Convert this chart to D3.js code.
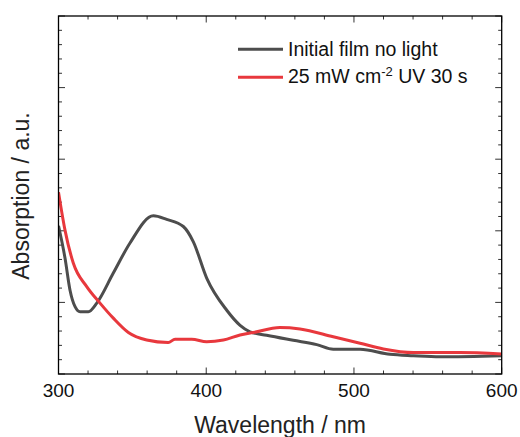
<!DOCTYPE html>
<html><head><meta charset="utf-8">
<script src="https://cdn.jsdelivr.net/npm/d3@7"></script>
<style>body{margin:0;background:#fff}svg{display:block}text{font-family:Arial,"Liberation Sans",sans-serif}</style>
</head><body>
<svg id="chart" width="520" height="437"></svg>
<script>
const seriesNames = ["Initial film no light", "25 mW cm-2 UV 30 s"];
const darkWl  = [300,304.4,307.8,311.2,314.6,320.2,325.9,337.1,348.4,364.2,373.2,384.5,391.2,400.3,413.9,422.9,429.6,440.9,458.9,474.8,486,504.1,524.4,540.2,558.2,600];
const darkAbs = [2.07,1.62,1.17,0.94,0.87,0.87,0.99,1.41,1.83,2.21,2.16,2.06,1.85,1.34,0.89,0.68,0.59,0.54,0.47,0.41,0.345,0.345,0.275,0.255,0.24,0.255];
const uvWl  = [300,304.4,310,319.1,328.1,337.1,347.3,359.7,374.3,378.9,390.2,400.3,411.6,422.9,431.9,449.9,463.5,486,504.1,519.9,540.2,571.8,600];
const uvAbs = [2.54,2.01,1.55,1.22,0.99,0.78,0.58,0.475,0.44,0.485,0.485,0.45,0.475,0.545,0.58,0.65,0.63,0.52,0.43,0.35,0.30,0.30,0.28];
const xTickLabels = [300,400,500,600];

const W = 520, H = 437;
const m = {l:58.5, t:16, r:18.3, b:63};
const svg = d3.select("#chart");
const x = d3.scaleLinear().domain([300,600]).range([m.l, W-m.r]);
const y = d3.scaleLinear().domain([0,5]).range([H-m.b, m.t]);

const minorX = d3.range(300,601,20), minorY = d3.range(0,5.01,0.2);
const isMajX = v => Math.abs(v%100)<1e-6;
const isMajY = v => Math.abs(v-Math.round(v))<1e-6;
const tickCol = "#333";

function axisTicks(){
  const g = svg.append("g").attr("stroke", tickCol).attr("stroke-width",1);
  minorX.forEach(v=>{
    const L = isMajX(v)?6.5:3.5;
    g.append("line").attr("x1",x(v)).attr("x2",x(v)).attr("y1",y(0)).attr("y2",y(0)-L);
    g.append("line").attr("x1",x(v)).attr("x2",x(v)).attr("y1",y(5)).attr("y2",y(5)+L);
  });
  minorY.forEach(v=>{
    const L = isMajY(v)?6.5:3.5;
    g.append("line").attr("x1",x(300)).attr("x2",x(300)+L).attr("y1",y(v)).attr("y2",y(v));
    g.append("line").attr("x1",x(600)).attr("x2",x(600)-L).attr("y1",y(v)).attr("y2",y(v));
  });
}
axisTicks();

const line = d3.line().x(d=>x(d[0])).y(d=>y(d[1])).curve(d3.curveMonotoneX);
const darkData = darkWl.map((w,i)=>[w,darkAbs[i]]);
const uvData = uvWl.map((w,i)=>[w,uvAbs[i]]);
const cDark = "#4d4d4d", cRed = "#e8383d";

svg.append("clipPath").attr("id","clip").append("rect")
  .attr("x",m.l).attr("y",m.t).attr("width",W-m.l-m.r).attr("height",H-m.t-m.b);
const pg = svg.append("g").attr("clip-path","url(#clip)");
pg.append("path").datum(darkData).attr("d",line).attr("fill","none").attr("stroke",cDark).attr("stroke-width",3).attr("stroke-linejoin","round");
pg.append("path").datum(uvData).attr("d",line).attr("fill","none").attr("stroke",cRed).attr("stroke-width",3).attr("stroke-linejoin","round");

svg.append("rect").attr("x",m.l).attr("y",m.t).attr("width",W-m.l-m.r).attr("height",H-m.t-m.b)
  .attr("fill","none").attr("stroke","#000").attr("stroke-width",1.3);

svg.append("g").selectAll("text").data(xTickLabels).join("text")
  .attr("x",d=>x(d)).attr("y",397).attr("text-anchor","middle").attr("font-size",19).attr("fill","#111").text(d=>d);

svg.append("text").attr("x",(x(300)+x(600))/2).attr("y",433).attr("text-anchor","middle")
  .attr("font-size",23).attr("fill","#222").text("Wavelength / nm");
svg.append("text").attr("transform","translate(29,196) rotate(-90)").attr("text-anchor","middle")
  .attr("font-size",23).attr("fill","#222").text("Absorption / a.u.");

// legend
const lg = svg.append("g");
[[cDark,49.3,55],[cRed,77.3,83]].forEach((r,i)=>{
  lg.append("line").attr("x1",238).attr("x2",283).attr("y1",r[1]).attr("y2",r[1]).attr("stroke",r[0]).attr("stroke-width",3);
});
lg.append("text").attr("x",288).attr("y",55.5).attr("font-size",19.5).attr("fill","#111").text(seriesNames[0]);
const t2 = lg.append("text").attr("x",288).attr("y",83).attr("font-size",19.5).attr("fill","#111");
t2.append("tspan").text("25 mW cm");
t2.append("tspan").attr("dy",-7).attr("font-size",13).text("-2");
t2.append("tspan").attr("dy",7).text(" UV 30 s");
</script>
</body></html>
